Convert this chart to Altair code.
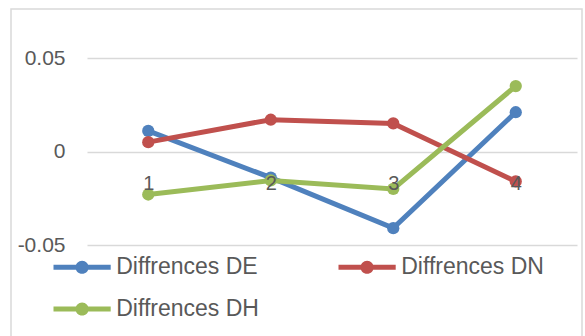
import altair as alt
import pandas as pd

# Category labels on the x axis
points = ["1", "2", "3", "4"]

# Differences per series
diff_de = [0.011, -0.014, -0.041, 0.021]
diff_dn = [0.005, 0.017, 0.015, -0.016]
diff_dh = [-0.023, -0.0155, -0.020, 0.035]

series_names = ["Diffrences DE", "Diffrences DN", "Diffrences DH"]
series_colors = ["#4F81BD", "#C0504D", "#9BBB59"]
# Legend entries fill column by column: DE, DH in the first column, DN in the second
legend_order = ["Diffrences DE", "Diffrences DH", "Diffrences DN"]

rows = []
for i, (name, values) in enumerate(zip(series_names, [diff_de, diff_dn, diff_dh])):
    for p, v in zip(points, values):
        rows.append({"point": p, "value": v, "series": name, "order": i})
df = pd.DataFrame(rows)

FONT = "Liberation Sans"
TEXT = "#595959"
GRID = "#D9D9D9"

# Legend symbol: a line with a dot in the middle
LEGEND_PATH = (
    "M-2.6,-0.22 L2.6,-0.22 L2.6,0.22 L-2.6,0.22 Z "
    "M-0.6,0 A0.6,0.6 0 1,1 0.6,0 A0.6,0.6 0 1,1 -0.6,0 Z"
)

x_enc = alt.X(
    "point:O",
    scale=alt.Scale(type="point", padding=0.5),
    axis=alt.Axis(
        title=None, labelAngle=0, domain=False, ticks=False, grid=False,
        offset=-94, labelPadding=22, labelFontSize=20, labelColor=TEXT,
        labelFont=FONT, zindex=1,
    ),
)
y_enc = alt.Y(
    "value:Q",
    scale=alt.Scale(domain=[-0.05, 0.05], nice=False, zero=False),
    axis=alt.Axis(
        title=None, values=[-0.05, 0, 0.05], labelExpr="toString(datum.value)",
        domain=False, ticks=False, grid=True, gridColor=GRID, gridWidth=1.5,
        labelPadding=22, labelFontSize=21, labelColor=TEXT, labelFont=FONT,
    ),
)
color_scale = alt.Scale(domain=series_names, range=series_colors)
color_enc = alt.Color(
    "series:N",
    scale=color_scale,
    sort=series_names,
    legend=alt.Legend(
        title=None, orient="none", legendX=-16.4, legendY=197.5,
        columns=2, columnPadding=78, rowPadding=18, padding=0,
        values=legend_order,
        symbolType=LEGEND_PATH, symbolSize=484, symbolStrokeWidth=0,
        symbolOpacity=1, labelOffset=22.6, labelFontSize=23,
        labelColor=TEXT, labelFont=FONT, labelLimit=300,
    ),
)

lines = alt.Chart(df).mark_line(strokeWidth=5).encode(
    x=x_enc, y=y_enc, color=color_enc, order="order:Q"
)
dots = alt.Chart(df).mark_circle(size=150, opacity=1).encode(
    x=x_enc, y=y_enc,
    color=alt.Color("series:N", scale=color_scale, sort=series_names, legend=None),
)

frame = alt.Chart(pd.DataFrame({"k": [0]})).mark_rect(
    fill=None, stroke=GRID, strokeWidth=1.5
).encode(
    x=alt.value(-76), x2=alt.value(495), y=alt.value(-49), y2=alt.value(300)
)

chart = (
    alt.layer(frame, lines, dots)
    .properties(
        width=490, height=187,
        autosize=alt.AutoSizeParams(type="none"),
        padding={"left": 87, "top": 58, "right": 8, "bottom": 91},
        background="white",
    )
    .configure_view(stroke=None)
)

chart.save("out.html", embed_options={"renderer": "svg", "actions": False})
